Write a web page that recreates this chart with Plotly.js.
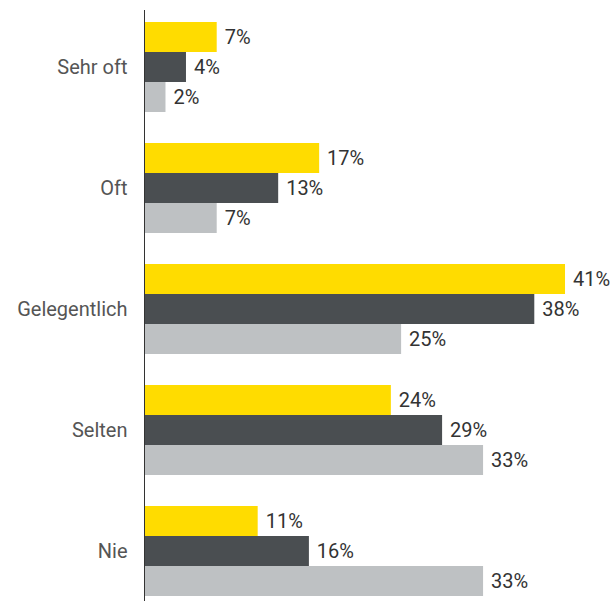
<!DOCTYPE html>
<html>
<head>
<meta charset="utf-8">
<script src="https://cdn.plot.ly/plotly-3.0.1.min.js"></script>
<style>
  body { margin: 0; background: #fff; }
  #myDiv { width: 611px; height: 601px; }
</style>
</head>
<body>
<div id="myDiv"></div>
<script>
var categories = ['Sehr oft', 'Oft', 'Gelegentlich', 'Selten', 'Nie'];
var serie1 = [7, 17, 41, 24, 11];
var serie2 = [4, 13, 38, 29, 16];
var serie3 = [2, 7, 25, 33, 33];
var colors = ['#FFDC00', '#4A4E51', '#BEC1C3'];

function makeTrace(vals, color) {
  return {
    type: 'bar',
    orientation: 'h',
    y: categories,
    x: vals,
    text: vals.map(v => ' ' + v + '%'),
    textposition: 'outside',
    cliponaxis: false,
    textfont: { family: 'Roboto, sans-serif', size: 20, color: '#333' },
    marker: { color: color },
    hoverinfo: 'none'
  };
}

var data = [
  makeTrace(serie1, colors[0]),
  makeTrace(serie2, colors[1]),
  makeTrace(serie3, colors[2])
];

var layout = {
  width: 611,
  height: 601,
  margin: { l: 145, r: 5, t: 10, b: 0 },
  barmode: 'group',
  bargap: 0.256,
  bargroupgap: 0,
  showlegend: false,
  paper_bgcolor: '#fff',
  plot_bgcolor: '#fff',
  font: { family: 'Roboto, sans-serif' },
  uniformtext: { mode: false },
  xaxis: {
    range: [0, 45],
    visible: false,
    showgrid: false,
    zeroline: false
  },
  yaxis: {
    type: 'category',
    range: [4.413, -0.471],
    showline: true,
    linecolor: '#333',
    linewidth: 1.5,
    ticks: '',
    ticklabelstandoff: 12,
    tickfont: { family: 'Roboto, sans-serif', size: 20, color: '#555' },
    showgrid: false,
    zeroline: false
  }
};

Plotly.newPlot('myDiv', data, layout, { displayModeBar: false, staticPlot: true });
</script>
</body>
</html>
